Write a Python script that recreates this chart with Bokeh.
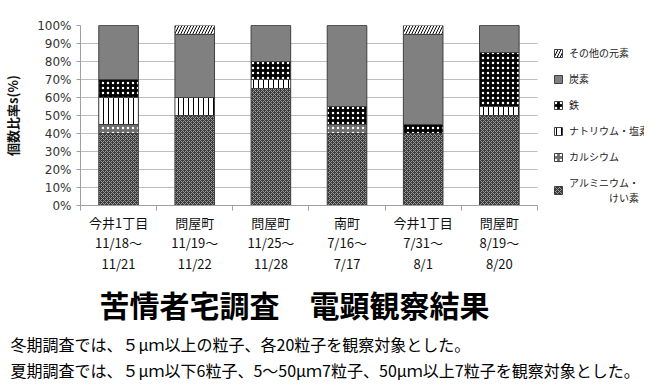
from bokeh.plotting import figure
from bokeh.models import (Legend, LegendItem, Title, PrintfTickFormatter, Grid,
                          FixedTicker, Range1d, ColumnDataSource)
from bokeh.transform import stack
from bokeh.embed import file_html
from bokeh.resources import INLINE

# ---- data ----
sites = ["今井1丁目", "問屋町", "問屋町", "南町", "今井1丁目", "問屋町"]
starts = ["11/18～", "11/19～", "11/25～", "7/16～", "7/31～", "8/19～"]
ends = ["11/21", "11/22", "11/28", "7/17", "8/1", "8/20"]

al_si = [40, 50, 65, 40, 40, 50]
calcium = [5, 0, 0, 5, 0, 0]
na_cl = [15, 10, 5, 0, 0, 5]
iron = [10, 0, 10, 10, 5, 30]
carbon = [30, 35, 20, 45, 50, 15]
other = [0, 5, 0, 0, 5, 0]

series_names = ["アルミニウム・\n　　　　けい素", "カルシウム", "ナトリウム・塩素", "鉄", "炭素", "その他の元素"]
y_ticks = list(range(0, 101, 10))

title_text = "苦情者宅調査　電顕観察結果"
note1 = "冬期調査では、５μｍ以上の粒子、各20粒子を観察対象とした。"
note2 = "夏期調査では、５μｍ以下6粒子、5～50μｍ7粒子、50μｍ以上7粒子を観察対象とした。"
y_label = "個数比率s(%)"

categories = [f"{a}\n{b}\n{c}" for a, b, c in zip(sites, starts, ends)]
xs = list(range(len(categories)))
keys = ["al", "ca", "na", "fe", "c", "ot"]
src = ColumnDataSource(dict(x=xs, al=al_si, ca=calcium, na=na_cl,
                            fe=iron, c=carbon, ot=other))

JP = "Noto Sans CJK JP"
n = len(categories)
x_end = -0.5 + 574 / 77.5   # room on the right of the bars for the legend

p = figure(width=644, height=381, x_range=Range1d(-0.5, x_end),
           y_range=Range1d(0, 100), output_backend="svg", toolbar_location=None,
           min_border_left=70, min_border_right=0, min_border_top=25,
           min_border_bottom=156)
p.outline_line_color = None
p.background_fill_color = "white"

styles = [
    dict(fill_color="#3a3a3a", hatch_pattern="diagonal_cross", hatch_color="#9a9a9a", hatch_scale=4, hatch_weight=1),
    dict(fill_color="#6e6e6e", hatch_pattern="dot", hatch_color="#ffffff", hatch_scale=5, hatch_weight=0.8),
    dict(fill_color="#ffffff", hatch_pattern="vertical_line", hatch_color="#000000", hatch_scale=5, hatch_weight=1),
    dict(fill_color="#000000", hatch_pattern="dot", hatch_color="#ffffff", hatch_scale=5, hatch_weight=0.7),
    dict(fill_color="#808080"),
    dict(fill_color="#ffffff", hatch_pattern="right_diagonal_line", hatch_color="#000000", hatch_scale=6, hatch_weight=1),
]

renderers = []
for i, k in enumerate(keys):
    r = p.vbar(x="x", bottom=stack(*keys[:i]), top=stack(*keys[:i + 1]), width=0.52,
               source=src, line_color="#404040", line_width=1, **styles[i])
    renderers.append(r)

has_cross = "cross_bounds" in Grid.properties()

p.xgrid.grid_line_color = None
p.ygrid.grid_line_color = "#bdbdbd"
p.ygrid.ticker = FixedTicker(ticks=y_ticks)
if has_cross:
    p.ygrid.cross_bounds = (-0.5, n - 0.5)

items = [LegendItem(label=series_names[i], renderers=[renderers[i]]) for i in range(5, -1, -1)]
legend_kw = dict(items=items, padding=2, margin=0, border_line_color=None,
                 background_fill_color="white", background_fill_alpha=1.0,
                 glyph_width=10, glyph_height=10, label_standoff=6,
                 label_text_font=JP, label_text_font_size="10px",
                 label_text_color="#222222", label_height=13, spacing=11)
if has_cross:
    legend = Legend(location=(473, 0), **legend_kw)
else:
    legend = Legend(location=(473, -2), title=" ", title_text_font_size="30px",
                    title_standoff=4, **legend_kw)
p.add_layout(legend, "center")

p.yaxis.ticker = FixedTicker(ticks=y_ticks)
p.yaxis.formatter = PrintfTickFormatter(format="%d%%")
p.yaxis.major_label_text_font = "DejaVu Sans"
p.yaxis.major_label_text_font_size = "12px"
p.yaxis.major_label_text_color = "#333333"
p.yaxis.axis_line_color = "#a0a0a0"
p.yaxis.major_tick_line_color = "#a0a0a0"
p.yaxis.major_tick_out = 4
p.yaxis.major_tick_in = 0
p.yaxis.minor_tick_line_color = None
p.yaxis.axis_label = y_label
p.yaxis.axis_label_text_font = JP
p.yaxis.axis_label_text_font_style = "bold"
p.yaxis.axis_label_text_font_size = "13px"
p.yaxis.axis_label_text_color = "#111111"
p.yaxis.axis_label_standoff = 12

p.xaxis.ticker = FixedTicker(ticks=xs, minor_ticks=[i - 0.5 for i in range(n + 1)])
p.xaxis.major_label_overrides = {i: c for i, c in zip(xs, categories)}
p.xaxis.bounds = (-0.5, n - 0.5)
p.xaxis.axis_line_color = "#a0a0a0"
p.xaxis.major_tick_line_color = None
p.xaxis.minor_tick_line_color = "#a0a0a0"
p.xaxis.minor_tick_out = 5
p.xaxis.minor_tick_in = 0
p.xaxis.major_label_text_font = JP
p.xaxis.major_label_text_font_size = "13px"
p.xaxis.major_label_text_color = "#111111"
p.xaxis.major_label_text_line_height = 1.08
p.xaxis.major_label_standoff = 1

p.add_layout(Title(text=title_text, text_font=JP, text_font_size="30px",
                   text_font_style="bold", align="left", offset=19,
                   text_color="#000000", standoff=8), "below")
p.add_layout(Title(text=note1, text_font=JP, text_font_size="16px",
                   text_font_style="normal", align="left", offset=-70,
                   text_color="#000000", standoff=0, text_line_height=0.75), "below")
p.add_layout(Title(text=note2, text_font=JP, text_font_size="16px",
                   text_font_style="normal", align="left", offset=-70,
                   text_color="#000000", standoff=0, text_line_height=0.75), "below")

open("out.html", "w").write(file_html(p, INLINE))
